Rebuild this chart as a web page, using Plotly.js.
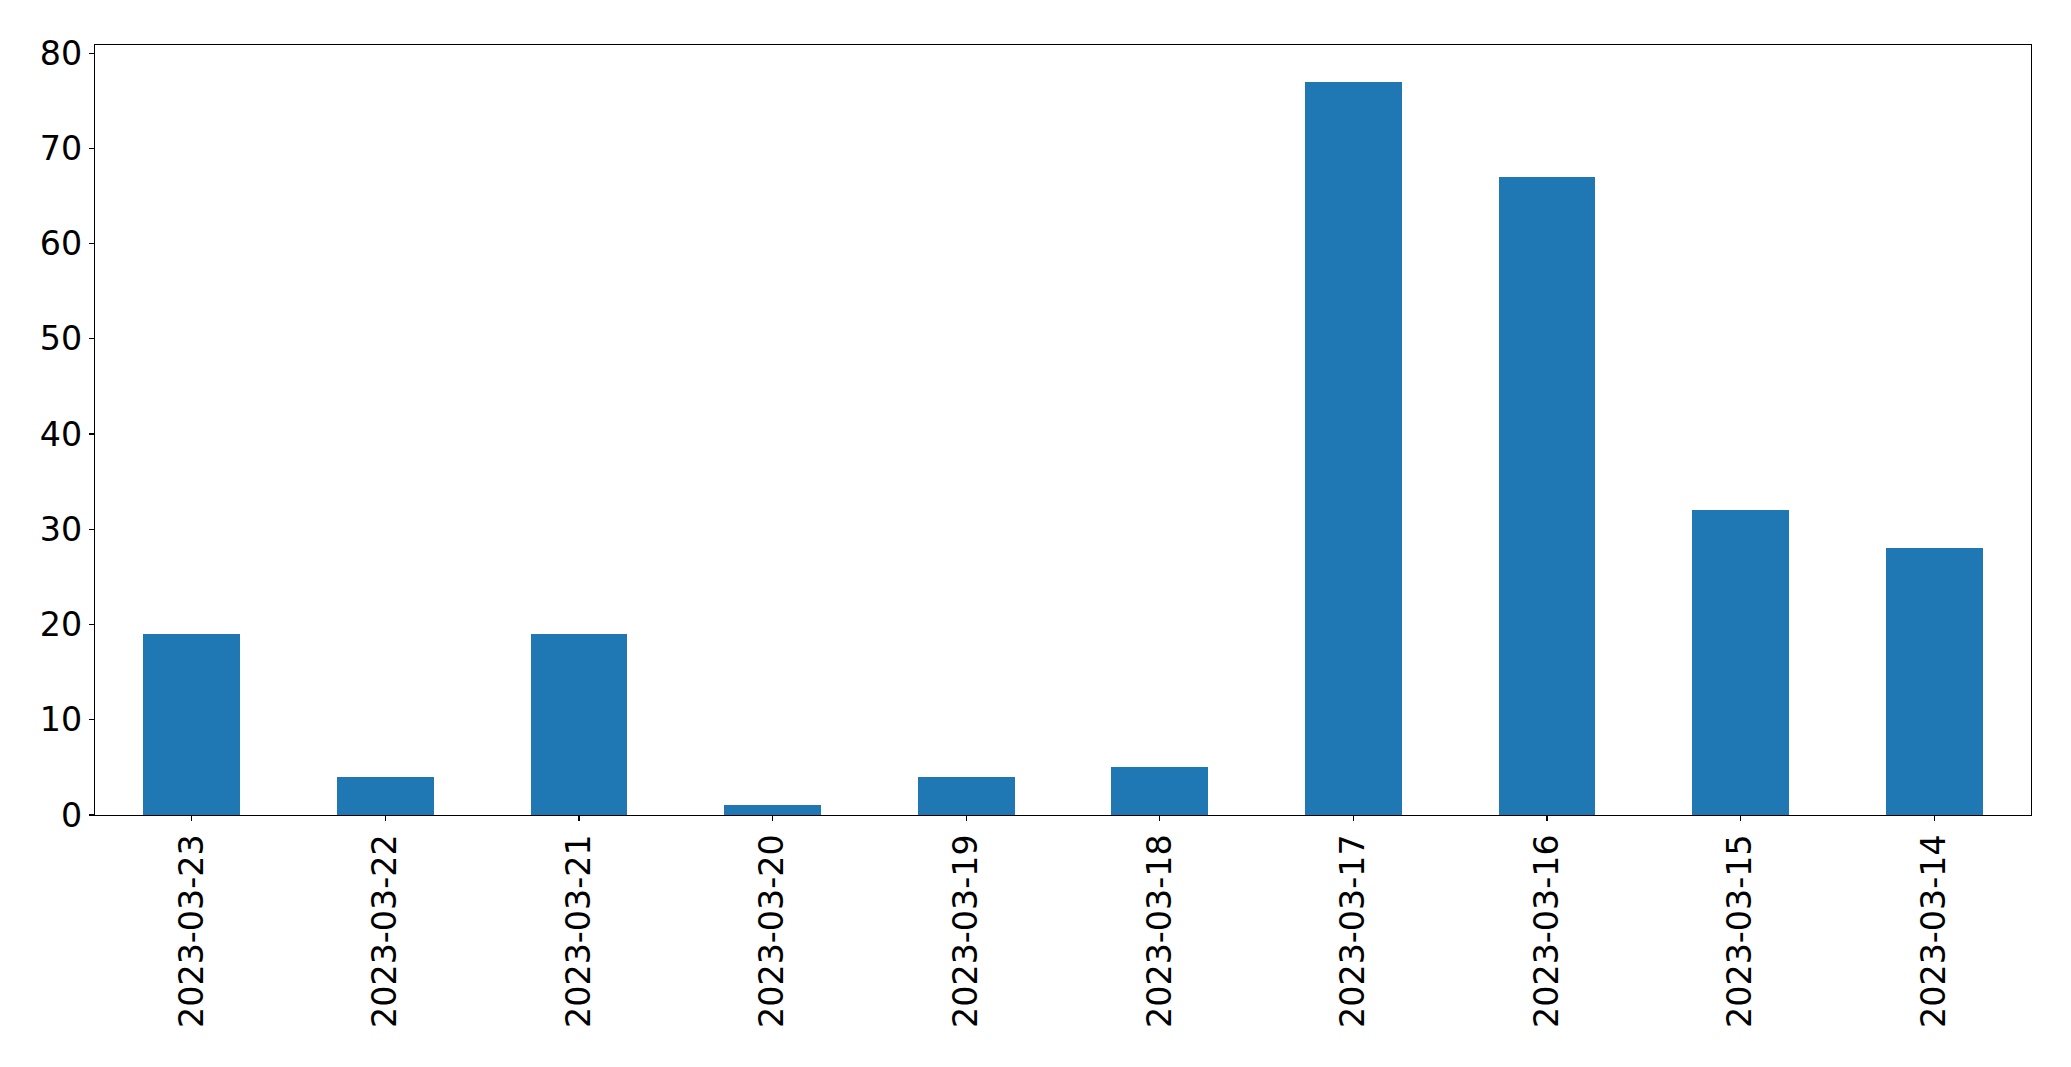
<!DOCTYPE html>
<html>
<head>
<meta charset="utf-8">
<script src="https://cdn.plot.ly/plotly-3.0.1.min.js"></script>
<style>html,body{margin:0;padding:0;background:#fff;}#chart{width:2071px;height:1067px;}</style>
</head>
<body>
<div id="chart"></div>
<script>
const categories = ["2023-03-23","2023-03-22","2023-03-21","2023-03-20","2023-03-19","2023-03-18","2023-03-17","2023-03-16","2023-03-15","2023-03-14"];
const values = [19, 4, 19, 1, 4, 5, 77, 67, 32, 28];
const yTicks = [0, 10, 20, 30, 40, 50, 60, 70, 80];

const trace = {
  type: "bar",
  x: categories,
  y: values,
  width: 0.5,
  marker: {color: "#1f77b4", line: {width: 0}},
  hoverinfo: "x+y"
};

const axisCommon = {
  showline: true, mirror: true, linecolor: "#000", linewidth: 1.1,
  ticks: "outside", ticklen: 5, tickwidth: 1.1, tickcolor: "#000",
  showgrid: false, zeroline: false,
  tickfont: {family: "DejaVu Sans", size: 33.3, color: "#000"}
};

const layout = {
  width: 2071, height: 1067,
  margin: {l: 94.5, r: 40, t: 45, b: 252, pad: 0},
  paper_bgcolor: "#fff", plot_bgcolor: "#fff",
  showlegend: false,
  bargap: 0,
  xaxis: Object.assign({}, axisCommon, {
    type: "category", range: [-0.5, 9.5], tickangle: -90
  }),
  yaxis: Object.assign({}, axisCommon, {
    range: [0, 80.85], tickvals: yTicks, ticktext: yTicks.map(String)
  })
};

Plotly.newPlot("chart", [trace], layout, {displayModeBar: false, staticPlot: true});
</script>
</body>
</html>
